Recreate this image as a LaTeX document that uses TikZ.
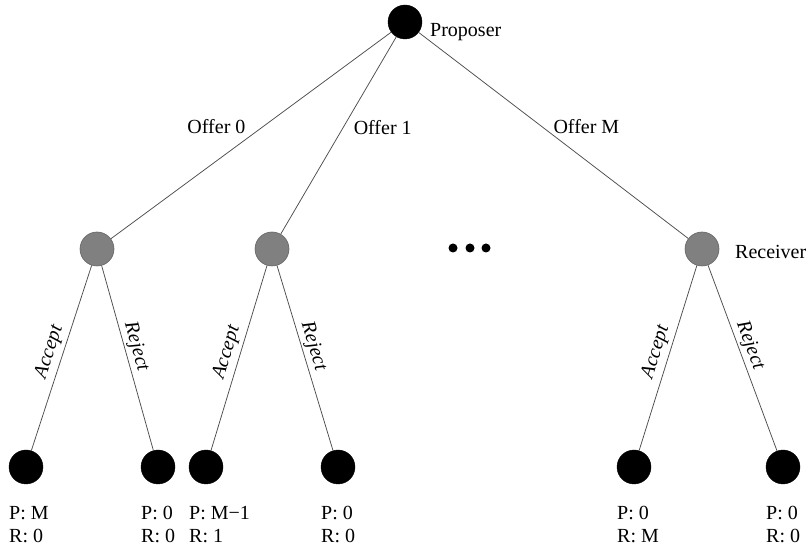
\documentclass[tikz,border=0pt]{standalone}
\usepackage{fontspec}
\setmainfont{Liberation Serif}
\begin{document}
\begin{tikzpicture}[x=1pt,y=1pt,
  every node/.style={font=\fontsize{20}{24}\selectfont},
  blacknode/.style={circle,fill=black,draw=black,minimum size=34pt,inner sep=0},
  graynode/.style={circle,fill={rgb,255:red,128;green,128;blue,128},draw={rgb,255:red,100;green,100;blue,100},line width=0.6pt,minimum size=34pt,inner sep=0},
  dotnode/.style={circle,fill=black,minimum size=9pt,inner sep=0},
  branch/.style={draw=black!70,line width=0.75pt},
  offerlbl/.style={inner sep=0},
  acclbl/.style={inner sep=0,sloped,above=4pt,font=\fontsize{20}{24}\selectfont\itshape},
  rejlbl/.style={inner sep=0,sloped,above=2pt,font=\fontsize{20}{24}\selectfont\itshape},
  pay/.style={anchor=base west,inner sep=0}
]
\useasboundingbox (0,0) rectangle (806,546);

\node[blacknode] (root) at (405,524) {};
\node[anchor=base west,inner sep=0] (rootlbl) at (430,509) {Proposer};

\node[graynode] (g1) at (97,297) {};
\node[graynode] (g2) at (272,297) {};
\node[graynode] (g3) at (702,297) {};
\node[anchor=base west,inner sep=0] (g3lbl) at (735,287) {Receiver};

\node[dotnode] (d1) at (453,298) {};
\node[dotnode] (d2) at (470,298) {};
\node[dotnode] (d3) at (486,298) {};

\node[blacknode] (l1) at (26,79) {};
\node[blacknode] (l2) at (158,79) {};
\node[blacknode] (l3) at (206,79) {};
\node[blacknode] (l4) at (338,79) {};
\node[blacknode] (l5) at (634,79) {};
\node[blacknode] (l6) at (783,79) {};

\draw[branch] (root) -- node[offerlbl,pos=0.458,left=17pt] (o0) {Offer 0} (g1);
\draw[branch] (root) -- node[offerlbl,pos=0.458,right=10pt] (o1) {Offer 1} (g2);
\draw[branch] (root) -- node[offerlbl,pos=0.458,right=11pt] (oM) {Offer M} (g3);

\draw[branch] (g1) -- node[acclbl,pos=0.49] (a1) {Accept} (l1);
\draw[branch] (g1) -- node[rejlbl,pos=0.455] (r1) {Reject} (l2);
\draw[branch] (g2) -- node[acclbl,pos=0.49] (a2) {Accept} (l3);
\draw[branch] (g2) -- node[rejlbl,pos=0.455] (r2) {Reject} (l4);
\draw[branch] (g3) -- node[acclbl,pos=0.49] (a3) {Accept} (l5);
\draw[branch] (g3) -- node[rejlbl,pos=0.455] (r3) {Reject} (l6);

\node[pay] (p1) at (9,26) {P: M};
\node[pay] (q1) at (9,3) {R: 0};
\node[pay] (p2) at (141,26) {P: 0};
\node[pay] (q2) at (141,3) {R: 0};
\node[pay] (p3) at (189,26) {P: M−1};
\node[pay] (q3) at (189,3) {R: 1};
\node[pay] (p4) at (321,26) {P: 0};
\node[pay] (q4) at (321,3) {R: 0};
\node[pay] (p5) at (617,26) {P: 0};
\node[pay] (q5) at (617,3) {R: M};
\node[pay] (p6) at (766,26) {P: 0};
\node[pay] (q6) at (766,3) {R: 0};
\end{tikzpicture}
\end{document}
